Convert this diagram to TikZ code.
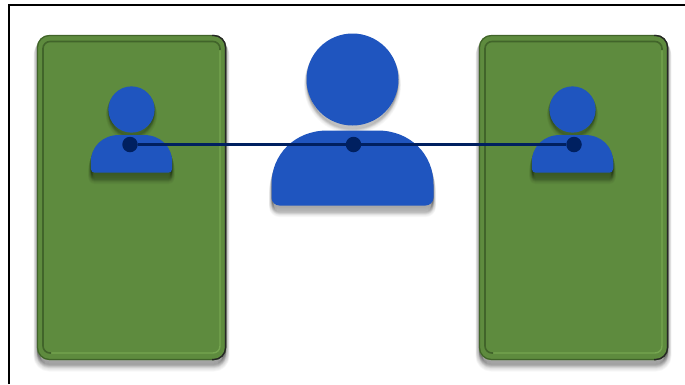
\documentclass[tikz,border=0pt]{standalone}
\definecolor{panelgreen}{HTML}{5E8B3E}
\definecolor{paneldark}{HTML}{41642A}
\definecolor{panellight}{HTML}{76A650}
\definecolor{personblue}{HTML}{1F55BF}
\definecolor{linknavy}{HTML}{002060}
\tikzset{
  x=1pt,y=-1pt,
  framestyle/.style={draw=black,line width=2pt},
  persona/.style={fill=personblue},
  linkdot/.style={circle,fill=linknavy,inner sep=0pt,minimum size=15.5pt},
  linkline/.style={draw=linknavy,line width=3pt},
}
% #1 x centre, #2 body top y, #3 scale
\newcommand{\bodypath}[3]{[shift={(#1,#2)},scale=#3]
  (-81,67) -- (-81,54) .. controls (-81,24) and (-58,0) .. (-25,0) -- (25,0)
  .. controls (58,0) and (81,24) .. (81,54) -- (81,67)
  .. controls (81,72) and (77,75) .. (73,75) -- (-73,75)
  .. controls (-77,75) and (-81,72) .. (-81,67) -- cycle}
% #1 path, #2 largest downward offset, #3 largest stroke width, #4 opacity of one layer
\newcommand{\softshadow}[4]{%
  \foreach \k in {1,...,12}{
    \path[fill=black,draw=black,fill opacity=#4,draw opacity=#4,line width=\k*#3/12 pt,line join=round,yshift=-\k*#2/12 pt] #1;
  }}
\newcommand{\person}[4]{% x centre, body top, scale, head rise
  \softshadow{\bodypath{#1}{#2}{#3}}{9}{5}{0.032}
  \softshadow{(#1,#2-#4) circle ({46*#3})}{6}{5}{0.02}
  \fill[persona] \bodypath{#1}{#2}{#3};
  \fill[persona] (#1,#2-#4) circle ({46*#3});
}
\newcommand{\panel}[2]{% left x, right x
  \softshadow{[rounded corners=12pt] (#1,35) rectangle (#2,360)}{8}{7}{0.032}
  \fill[panelgreen,rounded corners=12pt] (#1,35) rectangle (#2,360);
  \draw[paneldark,line width=1.2pt,rounded corners=12pt] (#1+.5,35.5) rectangle (#2-.5,359.5);
  \draw[black!85,line width=1.3pt,rounded corners=12pt] (#2-14,359.6) -- (#2-.4,359.6) -- (#2-.4,35.4) -- (#2-14,35.4);
  \draw[panellight,line width=1.4pt,rounded corners=7pt] (#1+14,353) -- (#2-6,353) -- (#2-6,50);
  \draw[paneldark,line width=1.6pt,rounded corners=7pt] (#1+14,353) -- (#1+6,353) -- (#1+6,41.5) -- (#2-6,41.5) -- (#2-6,50);
}
\begin{document}
\begin{tikzpicture}
\useasboundingbox (0,0) rectangle (685,384);
\fill[white] (0,0) rectangle (685,384);
\draw[framestyle] (9,384) -- (9,4.5) -- (685,4.5);
\panel{37}{226}
\panel{479}{668}
\person{131.5}{135}{0.503}{25.5}
\person{352.5}{130.5}{1}{51}
\person{572.5}{135}{0.503}{25.5}
\node[linkdot] (dota) at (130,144.5) {};
\node[linkdot] (dotb) at (353.5,144.5) {};
\node[linkdot] (dotc) at (574,144.5) {};
\draw[linkline] (dota) -- (dotb);
\draw[linkline] (dotb) -- (dotc);
\end{tikzpicture}
\end{document}
